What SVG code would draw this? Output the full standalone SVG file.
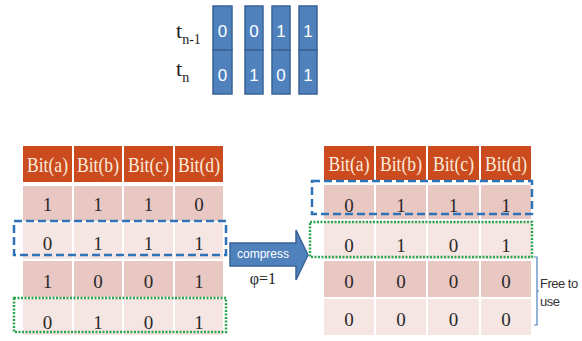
<svg xmlns="http://www.w3.org/2000/svg" width="582" height="341" viewBox="0 0 582 341">
  <style>
    .bitcell { fill: #4F81BD; stroke: #3A6396; stroke-width: 1.5; }
    .bitnum { font-size: 17px; fill: #FFFFFF; text-anchor: middle; }
    .tlabel { font-size: 22px; fill: #222222; }
    .tsub { font-size: 14px; }
    .hdr { fill: #CB4B1E; stroke: #FFFFFF; stroke-width: 2; }
    .rowA { fill: #E9C7C3; stroke: #FFFFFF; stroke-width: 2; }
    .rowB { fill: #F5E5E3; stroke: #FFFFFF; stroke-width: 2; }
    .hdrtxt { font-size: 21px; fill: #FBEBDC; text-anchor: middle; }
    .cell { font-size: 19px; fill: #2A2A2A; text-anchor: middle; }
    .blue-dash { fill: none; stroke: #2E72B8; stroke-width: 2.5; stroke-dasharray: 8 4; }
    .green-dot { fill: none; stroke: #2DA44E; stroke-width: 2.5; stroke-dasharray: 2 1.5; }
    .arrow { fill: #4F81BD; stroke: #3A6396; stroke-width: 1.5; }
    .arrowtxt { font-size: 12px; fill: #FFFFFF; text-anchor: middle; }
    .phi { font-size: 16px; fill: #222222; text-anchor: middle; }
    .brace { fill: none; stroke: #4F81BD; stroke-width: 1.2; }
    .note { font-size: 13px; fill: #333333; letter-spacing: -0.5px; }
  </style>

  <!-- bit history: t(n-1) and t(n) -->
  <g id="time-labels">
    <text class="tlabel" font-family="Liberation Serif" x="176" y="38">t<tspan class="tsub" dy="6">n-1</tspan></text>
    <text class="tlabel" font-family="Liberation Serif" x="176" y="76">t<tspan class="tsub" dy="6">n</tspan></text>
  </g>
  <g id="bit-a">
    <rect class="bitcell" x="213" y="6" width="19" height="44"/>
    <rect class="bitcell" x="213" y="50" width="19" height="44"/>
    <text class="bitnum" font-family="Liberation Sans" x="222.5" y="37">0</text>
    <text class="bitnum" font-family="Liberation Sans" x="222.5" y="81">0</text>
  </g>
  <g id="bit-b">
    <rect class="bitcell" x="245" y="6" width="18" height="44"/>
    <rect class="bitcell" x="245" y="50" width="18" height="44"/>
    <text class="bitnum" font-family="Liberation Sans" x="254" y="37">0</text>
    <text class="bitnum" font-family="Liberation Sans" x="254" y="81">1</text>
  </g>
  <g id="bit-c">
    <rect class="bitcell" x="272" y="6" width="18" height="44"/>
    <rect class="bitcell" x="272" y="50" width="18" height="44"/>
    <text class="bitnum" font-family="Liberation Sans" x="281" y="37">1</text>
    <text class="bitnum" font-family="Liberation Sans" x="281" y="81">0</text>
  </g>
  <g id="bit-d">
    <rect class="bitcell" x="299" y="6" width="18" height="44"/>
    <rect class="bitcell" x="299" y="50" width="18" height="44"/>
    <text class="bitnum" font-family="Liberation Sans" x="308" y="37">1</text>
    <text class="bitnum" font-family="Liberation Sans" x="308" y="81">1</text>
  </g>

  <!-- table before compression -->
  <g id="table-before">
    <rect class="hdr" x="22" y="145" width="51" height="38"/>
    <rect class="hdr" x="73" y="145" width="50" height="38"/>
    <rect class="hdr" x="123" y="145" width="51" height="38"/>
    <rect class="hdr" x="174" y="145" width="50" height="38"/>
    <text class="hdrtxt" font-family="Liberation Serif" x="47.5" y="172" textLength="41" lengthAdjust="spacingAndGlyphs">Bit(a)</text>
    <text class="hdrtxt" font-family="Liberation Serif" x="98" y="172" textLength="42" lengthAdjust="spacingAndGlyphs">Bit(b)</text>
    <text class="hdrtxt" font-family="Liberation Serif" x="148.5" y="172" textLength="41" lengthAdjust="spacingAndGlyphs">Bit(c)</text>
    <text class="hdrtxt" font-family="Liberation Serif" x="199" y="172" textLength="42" lengthAdjust="spacingAndGlyphs">Bit(d)</text>

    <rect class="rowA" x="22" y="185" width="51" height="37"/>
    <rect class="rowA" x="73" y="185" width="50" height="37"/>
    <rect class="rowA" x="123" y="185" width="51" height="37"/>
    <rect class="rowA" x="174" y="185" width="50" height="37"/>
    <rect class="rowB" x="22" y="222" width="51" height="38"/>
    <rect class="rowB" x="73" y="222" width="50" height="38"/>
    <rect class="rowB" x="123" y="222" width="51" height="38"/>
    <rect class="rowB" x="174" y="222" width="50" height="38"/>
    <rect class="rowA" x="22" y="260" width="51" height="38"/>
    <rect class="rowA" x="73" y="260" width="50" height="38"/>
    <rect class="rowA" x="123" y="260" width="51" height="38"/>
    <rect class="rowA" x="174" y="260" width="50" height="38"/>
    <rect class="rowB" x="22" y="298" width="51" height="38"/>
    <rect class="rowB" x="73" y="298" width="50" height="38"/>
    <rect class="rowB" x="123" y="298" width="51" height="38"/>
    <rect class="rowB" x="174" y="298" width="50" height="38"/>

    <text class="cell" font-family="Liberation Serif" x="47.5" y="211">1</text>
    <text class="cell" font-family="Liberation Serif" x="98" y="211">1</text>
    <text class="cell" font-family="Liberation Serif" x="148.5" y="211">1</text>
    <text class="cell" font-family="Liberation Serif" x="199" y="211">0</text>
    <text class="cell" font-family="Liberation Serif" x="47.5" y="250">0</text>
    <text class="cell" font-family="Liberation Serif" x="98" y="250">1</text>
    <text class="cell" font-family="Liberation Serif" x="148.5" y="250">1</text>
    <text class="cell" font-family="Liberation Serif" x="199" y="250">1</text>
    <text class="cell" font-family="Liberation Serif" x="47.5" y="288">1</text>
    <text class="cell" font-family="Liberation Serif" x="98" y="288">0</text>
    <text class="cell" font-family="Liberation Serif" x="148.5" y="288">0</text>
    <text class="cell" font-family="Liberation Serif" x="199" y="288">1</text>
    <text class="cell" font-family="Liberation Serif" x="47.5" y="329">0</text>
    <text class="cell" font-family="Liberation Serif" x="98" y="329">1</text>
    <text class="cell" font-family="Liberation Serif" x="148.5" y="329">0</text>
    <text class="cell" font-family="Liberation Serif" x="199" y="329">1</text>
  </g>

  <!-- table after compression -->
  <g id="table-after">
    <rect class="hdr" x="323" y="145" width="52" height="36"/>
    <rect class="hdr" x="375" y="145" width="52" height="36"/>
    <rect class="hdr" x="427" y="145" width="53" height="36"/>
    <rect class="hdr" x="480" y="145" width="52" height="36"/>
    <text class="hdrtxt" font-family="Liberation Serif" x="349" y="171" textLength="41" lengthAdjust="spacingAndGlyphs">Bit(a)</text>
    <text class="hdrtxt" font-family="Liberation Serif" x="401" y="171" textLength="42" lengthAdjust="spacingAndGlyphs">Bit(b)</text>
    <text class="hdrtxt" font-family="Liberation Serif" x="453.5" y="171" textLength="41" lengthAdjust="spacingAndGlyphs">Bit(c)</text>
    <text class="hdrtxt" font-family="Liberation Serif" x="506" y="171" textLength="42" lengthAdjust="spacingAndGlyphs">Bit(d)</text>

    <rect class="rowA" x="323" y="184" width="52" height="36"/>
    <rect class="rowA" x="375" y="184" width="52" height="36"/>
    <rect class="rowA" x="427" y="184" width="53" height="36"/>
    <rect class="rowA" x="480" y="184" width="52" height="36"/>
    <rect class="rowB" x="323" y="220" width="52" height="40"/>
    <rect class="rowB" x="375" y="220" width="52" height="40"/>
    <rect class="rowB" x="427" y="220" width="53" height="40"/>
    <rect class="rowB" x="480" y="220" width="52" height="40"/>
    <rect class="rowA" x="323" y="260" width="52" height="38"/>
    <rect class="rowA" x="375" y="260" width="52" height="38"/>
    <rect class="rowA" x="427" y="260" width="53" height="38"/>
    <rect class="rowA" x="480" y="260" width="52" height="38"/>
    <rect class="rowB" x="323" y="298" width="52" height="38"/>
    <rect class="rowB" x="375" y="298" width="52" height="38"/>
    <rect class="rowB" x="427" y="298" width="53" height="38"/>
    <rect class="rowB" x="480" y="298" width="52" height="38"/>

    <text class="cell" font-family="Liberation Serif" x="349" y="212">0</text>
    <text class="cell" font-family="Liberation Serif" x="401" y="212">1</text>
    <text class="cell" font-family="Liberation Serif" x="453.5" y="212">1</text>
    <text class="cell" font-family="Liberation Serif" x="506" y="212">1</text>
    <text class="cell" font-family="Liberation Serif" x="349" y="252">0</text>
    <text class="cell" font-family="Liberation Serif" x="401" y="252">1</text>
    <text class="cell" font-family="Liberation Serif" x="453.5" y="252">0</text>
    <text class="cell" font-family="Liberation Serif" x="506" y="252">1</text>
    <text class="cell" font-family="Liberation Serif" x="349" y="288">0</text>
    <text class="cell" font-family="Liberation Serif" x="401" y="288">0</text>
    <text class="cell" font-family="Liberation Serif" x="453.5" y="288">0</text>
    <text class="cell" font-family="Liberation Serif" x="506" y="288">0</text>
    <text class="cell" font-family="Liberation Serif" x="349" y="326">0</text>
    <text class="cell" font-family="Liberation Serif" x="401" y="326">0</text>
    <text class="cell" font-family="Liberation Serif" x="453.5" y="326">0</text>
    <text class="cell" font-family="Liberation Serif" x="506" y="326">0</text>
  </g>

  <!-- compress arrow -->
  <g id="compress-arrow">
    <path class="arrow" d="M230,243 L296,243 L296,230 L308,255 L296,280 L296,266 L230,266 Z"/>
    <text class="arrowtxt" font-family="Liberation Sans" x="263" y="258">compress</text>
    <text class="phi" font-family="Liberation Serif" x="263" y="284">φ=1</text>
  </g>

  <!-- row highlights and free-space bracket -->
  <g id="connectors">
    <rect class="blue-dash" x="14" y="221" width="212" height="34"/>
    <rect class="green-dot" x="14" y="298" width="212" height="34"/>
    <rect class="blue-dash" x="312" y="181" width="220" height="33"/>
    <rect class="green-dot" x="310" y="222" width="222" height="35"/>
    <path class="brace" d="M534,257 L537,257 L537,325 L534,325 M537,291 L539,291"/>
  </g>

  <g id="free-note">
    <text class="note" font-family="Liberation Sans" x="540" y="288">Free to</text>
    <text class="note" font-family="Liberation Sans" x="540" y="306">use</text>
  </g>
</svg>
